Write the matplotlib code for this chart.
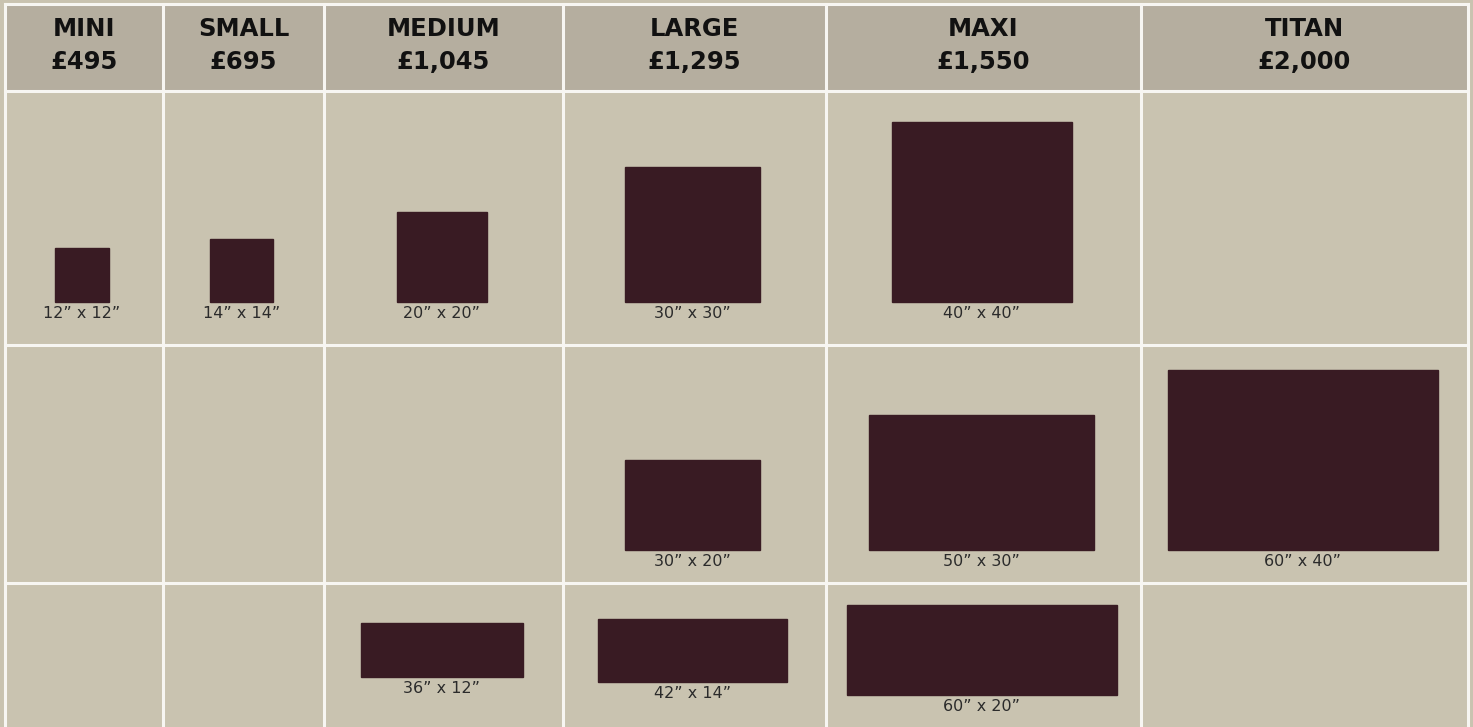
import matplotlib
matplotlib.use("Agg")
import matplotlib.pyplot as plt
from matplotlib.patches import Rectangle

# canvas sizes and prices
sizes = ["MINI", "SMALL", "MEDIUM", "LARGE", "MAXI", "TITAN"]
prices = ["£495", "£695", "£1,045", "£1,295", "£1,550", "£2,000"]

# canvas dimensions in inches (width, height), None = empty cell
row1 = [(12, 12), (14, 14), (20, 20), (30, 30), (40, 40), None]
row2 = [None, None, None, (30, 20), (50, 30), (60, 40)]
row3 = [None, None, (36, 12), (42, 14), (60, 20), None]
rows = [row1, row2, row3]

# layout (pixels)
col_edges = [5, 163, 324, 563, 826, 1141, 1468]
row_edges = [4, 91, 345, 583, 727]
px_per_inch = 4.5
shift_x = -2
row_base = [302, 550, None]   # bottom aligned rows
row_mid = [None, None, 650]   # centre aligned row

header_bg = "#b5ae9f"
cell_bg = "#c9c3b0"
canvas_col = "#391b23"
line_col = "#f7f6f2"

fig = plt.figure(figsize=(14.73, 7.27), dpi=100)
fig.patch.set_facecolor(cell_bg)
ax = fig.add_axes([0, 0, 1, 1])
ax.set_xlim(0, 1473)
ax.set_ylim(727, 0)
ax.axis("off")

# header background and body
ax.add_patch(Rectangle((col_edges[0], row_edges[0]), col_edges[-1] - col_edges[0],
                       row_edges[1] - row_edges[0], color=header_bg, zorder=1))
ax.add_patch(Rectangle((col_edges[0], row_edges[1]), col_edges[-1] - col_edges[0],
                       row_edges[-1] - row_edges[1], color=cell_bg, zorder=1))

# grid lines
for x in col_edges:
    ax.plot([x, x], [row_edges[0], row_edges[-1]], color=line_col, lw=2.2, zorder=2)
for y in row_edges[:-1]:
    ax.plot([col_edges[0], col_edges[-1]], [y, y], color=line_col, lw=2.2, zorder=2)

# header text
for i in range(len(sizes)):
    cx = (col_edges[i] + col_edges[i + 1]) / 2
    ax.text(cx, 29, sizes[i], ha="center", va="center", fontsize=17.5,
            fontweight="bold", color="#111111", zorder=3)
    ax.text(cx, 62, prices[i], ha="center", va="center", fontsize=17.5,
            fontweight="bold", color="#111111", zorder=3)

# canvases
for r, row in enumerate(rows):
    for i, dim in enumerate(row):
        if dim is None:
            continue
        w = dim[0] * px_per_inch
        h = dim[1] * px_per_inch
        cx = (col_edges[i] + col_edges[i + 1]) / 2 + shift_x
        if row_base[r] is not None:
            bottom = row_base[r]
        else:
            bottom = row_mid[r] + h / 2
        ax.add_patch(Rectangle((cx - w / 2, bottom - h), w, h, color=canvas_col, zorder=3))
        ax.text(cx, bottom + 4, "%d” x %d”" % dim, ha="center", va="top",
                fontsize=11.5, color="#2b2b2b", zorder=3)

fig.savefig("out.png", dpi=100, facecolor=fig.get_facecolor())
